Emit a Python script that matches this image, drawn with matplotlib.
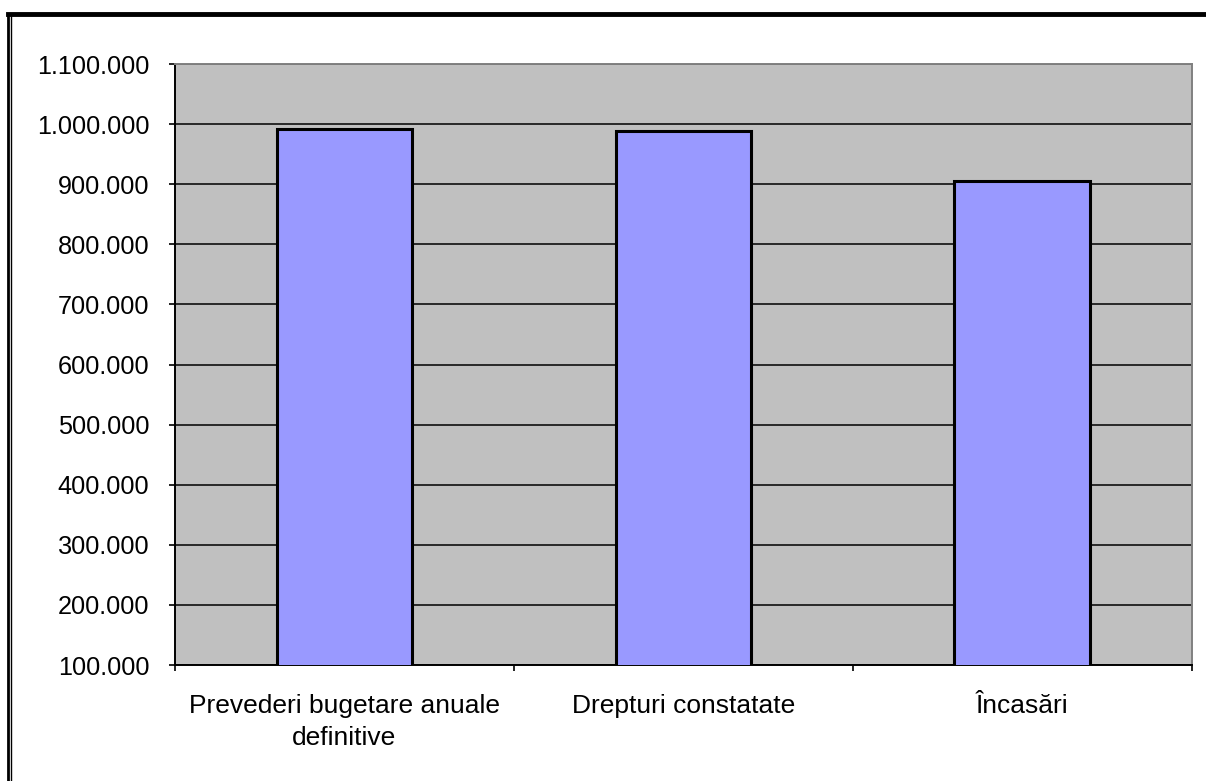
import numpy as np
import matplotlib
matplotlib.use("Agg")
from matplotlib import pyplot as plt
from matplotlib.lines import Line2D
from matplotlib.ticker import FuncFormatter

# Chart values
categories = ['Prevederi bugetare anuale\ndefinitive', 'Drepturi constatate', 'Încasări']
values = [992000, 988500, 905000]
y_ticks = list(range(100000, 1100001, 100000))

plt.rcParams['font.family'] = ['Liberation Sans', 'DejaVu Sans']

fig = plt.figure(figsize=(12.06, 7.81), dpi=100)
ax = fig.add_axes([0.1451, 0.1485, 0.843, 0.7695])
ax.set_facecolor('#C0C0C0')

x = np.arange(len(categories))
ax.bar(x, values, width=0.40, color='#9999FF', edgecolor='black', linewidth=2.2, zorder=3)

ax.set_xlim(-0.5, len(categories) - 0.5)
ax.set_ylim(100000, 1100000)
ax.set_yticks(y_ticks)
ax.yaxis.set_major_formatter(FuncFormatter(lambda v, p: f'{int(v):,}'.replace(',', '.')))
ax.grid(axis='y', color='black', linewidth=1.1, zorder=1)
ax.set_axisbelow(True)

# category labels between boundary ticks
ax.set_xticks(x)
ax.set_xticklabels(categories, fontsize=19, linespacing=1.4)
ax.tick_params(axis='x', length=0, pad=21)
ax.set_xticks(np.arange(-0.5, len(categories)), minor=True)
ax.tick_params(axis='x', which='minor', length=4.5, width=1.2, color='black')
ax.tick_params(axis='y', length=4.5, width=1.2, labelsize=18.2, pad=14)

ax.spines['left'].set_color('black')
ax.spines['bottom'].set_color('black')
ax.spines['top'].set_color('#808080')
ax.spines['right'].set_color('#808080')
for s in ax.spines.values():
    s.set_linewidth(1.4)

# outer frame of the original chart
fig.add_artist(Line2D([8 / 1206, 1.0], [1 - 13.5 / 781, 1 - 13.5 / 781], color='black', linewidth=3.5))
fig.add_artist(Line2D([8 / 1206, 8 / 1206], [0, 1 - 13.5 / 781], color='black', linewidth=2))
fig.add_artist(Line2D([10.8 / 1206, 10.8 / 1206], [0, 1 - 15 / 781], color='black', linewidth=1))

fig.savefig('out.png', dpi=100)
